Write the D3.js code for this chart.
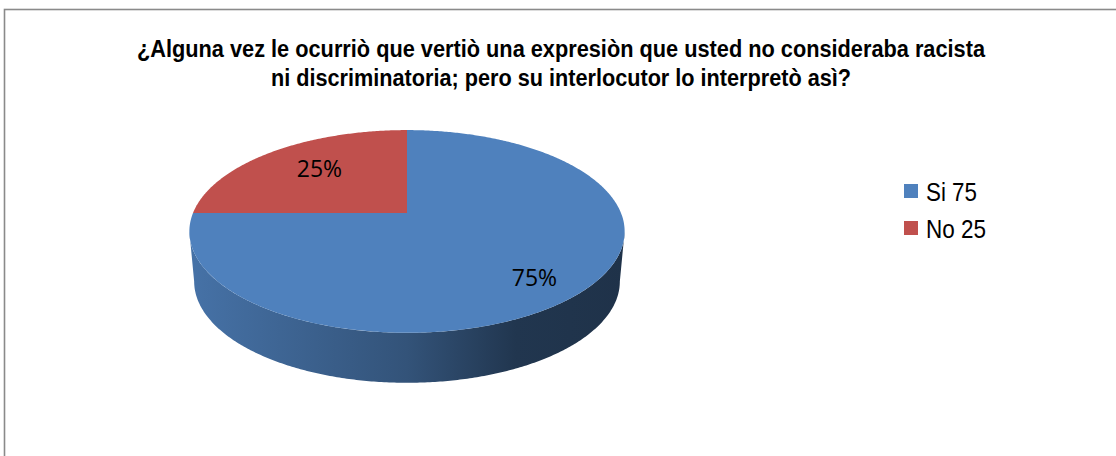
<!DOCTYPE html>
<html>
<head>
<meta charset="utf-8">
<script src="https://cdn.jsdelivr.net/npm/d3@7"></script>
<style>
  body { margin: 0; background: #fff; }
</style>
</head>
<body>
<div id="chart"></div>
<script>
const categories = ["Si", "No"];
const values = [75, 25];
const legendLabels = ["Si 75", "No 25"];
const titleLines = [
  "¿Alguna vez le ocurriò que vertiò una expresiòn que usted no consideraba racista",
  "ni discriminatoria; pero su interlocutor lo interpretò asì?"
];

const width = 1116, height = 456;
const cx = 407, cy = 213;      // projected pie centre (top face)
const R = 214, RY = 98;        // radii of the tilted disc
const K = 0.182;               // perspective factor
const DEPTH = 50, BOT = 0.978; // thickness, bottom shrink
const labelR = [0.76, 0.625];
const labelDy = [15, 4];

const color = d3.scaleOrdinal(categories, ["#4f81bd", "#c0504d"]);
const pct = d3.format(".0%");
const total = d3.sum(values);

const svg = d3.select("#chart").append("svg")
  .attr("width", width).attr("height", height);

// chart frame
svg.append("rect")
  .attr("x", 4.5).attr("y", 9.5)
  .attr("width", width + 20).attr("height", height + 20)
  .attr("fill", "none").attr("stroke", "#8a8a8a").attr("stroke-width", 1.6);

// title
svg.append("g")
  .attr("font-family", "'Liberation Sans Narrow', 'Arial Narrow', 'Liberation Sans', sans-serif")
  .attr("font-weight", "bold").attr("font-size", 23.5)
  .attr("text-anchor", "middle")
  .selectAll("text").data(titleLines).join("text")
  .attr("x", 561).attr("y", (d, i) => 57 + i * 29)
  .attr("textLength", (d, i) => [848, 580][i])
  .attr("lengthAdjust", "spacingAndGlyphs")
  .text(d => d);

function proj(a, r, bottom) {
  const x = r * Math.sin(a), z = r * Math.cos(a), w = 1 + K * z;
  const s = bottom ? BOT : 1;
  return [cx + s * R * x / w, cy + (bottom ? DEPTH : 0) - RY * z / w];
}
function arcPts(a0, a1, r, bottom) {
  const n = Math.max(2, Math.ceil(Math.abs(a1 - a0) / 0.01));
  return d3.range(n + 1).map(i => proj(a0 + (a1 - a0) * i / n, r, bottom));
}

const pie = d3.pie().sort(null).value(d => d)(values);
const line = d3.line();

// silhouette angles of the wall (horizontal extremes)
const aR = Math.acos(-K), aL = 2 * Math.PI - aR;
const xL = proj(aL, 1)[0], xR = proj(aR, 1)[0];

const defs = svg.append("defs");
pie.forEach((p, i) => {
  const base = d3.color(color(categories[i]));
  const g = defs.append("linearGradient")
    .attr("id", "side" + i).attr("gradientUnits", "userSpaceOnUse")
    .attr("x1", xL).attr("x2", xR).attr("y1", 0).attr("y2", 0);
  [[0, 0.35], [0.5, 1.25], [0.75, 2.45], [1, 2.65]].forEach(([o, k]) =>
    g.append("stop").attr("offset", o).attr("stop-color", base.darker(k)));
});

// side walls
pie.forEach((p, i) => {
  const lo = Math.max(p.startAngle, aR), hi = Math.min(p.endAngle, aL);
  if (hi <= lo) return;
  const pts = arcPts(lo, hi, 1, false).concat(arcPts(hi, lo, 1, true));
  svg.append("path")
    .attr("d", line(pts) + "Z")
    .attr("fill", `url(#side${i})`);
});

// top faces
svg.append("g").selectAll("path").data(pie).join("path")
  .attr("d", p => line([[cx, cy]].concat(arcPts(p.startAngle, p.endAngle, 1, false))) + "Z")
  .attr("fill", (p, i) => color(categories[i]));

// percentage labels
svg.append("g")
  .attr("font-family", "'Open Sans', sans-serif").attr("font-size", 23)
  .attr("text-anchor", "middle").attr("fill", "#000")
  .selectAll("text").data(pie).join("text")
  .attr("x", (p, i) => proj((p.startAngle + p.endAngle) / 2, labelR[i])[0])
  .attr("y", (p, i) => proj((p.startAngle + p.endAngle) / 2, labelR[i])[1] + labelDy[i])
  .text(p => pct(p.value / total));

// legend
const leg = svg.append("g").attr("transform", "translate(904,184)");
const item = leg.selectAll("g").data(legendLabels).join("g")
  .attr("transform", (d, i) => `translate(0,${i * 37})`);
item.append("rect").attr("width", 14).attr("height", 14)
  .attr("fill", (d, i) => color(categories[i]));
item.append("text")
  .attr("x", 22).attr("y", 17)
  .attr("font-family", "'Liberation Sans Narrow', 'Arial Narrow', 'Liberation Sans', sans-serif")
  .attr("font-size", 25)
  .attr("textLength", (d, i) => [51, 60][i])
  .attr("lengthAdjust", "spacingAndGlyphs")
  .text(d => d);
</script>
</body>
</html>
